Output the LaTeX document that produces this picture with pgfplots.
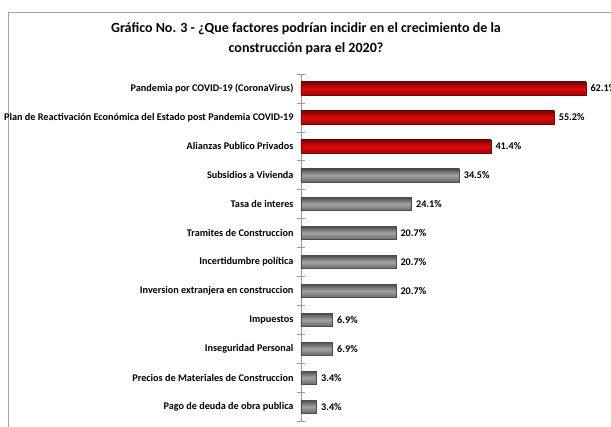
\documentclass[border=0pt]{standalone}
\usepackage{pgfplots}
\pgfplotsset{compat=1.18}
\usepackage{fontspec}
\setmainfont{Carlito}
\definecolor{myred}{RGB}{225,10,10}
\definecolor{mygray}{RGB}{140,140,140}
\pgfplotsset{
  redbar/.style={draw=myred!55!black, top color=myred!50!black, bottom color=myred!70!black, middle color=myred},
  graybar/.style={draw=mygray!55!black, top color=mygray!55!black, bottom color=mygray!75!black, middle color=mygray!80!white},
}
\begin{document}
\begin{tikzpicture}[x=1pt,y=1pt]
\useasboundingbox (0,0) rectangle (611,427);
\begin{scope}
\clip (0,0) rectangle (611,427);
\draw[gray!70, line width=0.8pt] (8,-5) -- (8,415) -- (620,415);
\node[font=\fontsize{14}{20}\selectfont\bfseries, align=center] at (306,388) {Gráfico No. 3 - ¿Que factores podrían incidir en el crecimiento de la\\construcción para el 2020?};
\begin{axis}[
  at={(301pt,6pt)}, anchor=south west,
  scale only axis, width=300pt, height=347pt,
  xmin=0, xmax=65.36, ymin=-0.5, ymax=11.5, y dir=reverse,
  axis x line=none, axis y line*=left,
  y axis line style={gray!80, line width=0.6pt},
  ytick={0,...,11}, major tick length=0pt,
  yticklabels={Pandemia por COVID-19 (CoronaVirus),Plan de Reactivación Económica del Estado post Pandemia COVID-19,Alianzas Publico Privados,Subsidios a Vivienda,Tasa de interes,Tramites de Construccion,Incertidumbre política,Inversion extranjera en construccion,Impuestos,Inseguridad Personal,Precios de Materiales de Construccion,Pago de deuda de obra publica},
  yticklabel style={font=\fontsize{10.2}{12}\selectfont\bfseries, xshift=-4pt},
  extra y ticks={-0.5,0.5,...,11.5}, extra y tick labels={},
  extra y tick style={major tick length=8pt, tick align=center, tick style={gray!80, line width=0.6pt}},
  xbar, bar width=13pt, bar shift=0pt,
  nodes near coords={\pgfmathprintnumber[fixed,fixed zerofill,precision=1,assume math mode=true]{\pgfplotspointmeta}\%},
  nodes near coords style={font=\fontsize{10.2}{12}\selectfont\bfseries, anchor=west, xshift=1pt},
  clip=false,
]
\addplot[redbar] coordinates {(62.1,0)};
\addplot[redbar] coordinates {(55.2,1)};
\addplot[redbar] coordinates {(41.4,2)};
\addplot[graybar] coordinates {(34.5,3)};
\addplot[graybar] coordinates {(24.1,4)};
\addplot[graybar] coordinates {(20.7,5)};
\addplot[graybar] coordinates {(20.7,6)};
\addplot[graybar] coordinates {(20.7,7)};
\addplot[graybar] coordinates {(6.9,8)};
\addplot[graybar] coordinates {(6.9,9)};
\addplot[graybar] coordinates {(3.4,10)};
\addplot[graybar] coordinates {(3.4,11)};
\end{axis}
\end{scope}
\end{tikzpicture}
\end{document}
